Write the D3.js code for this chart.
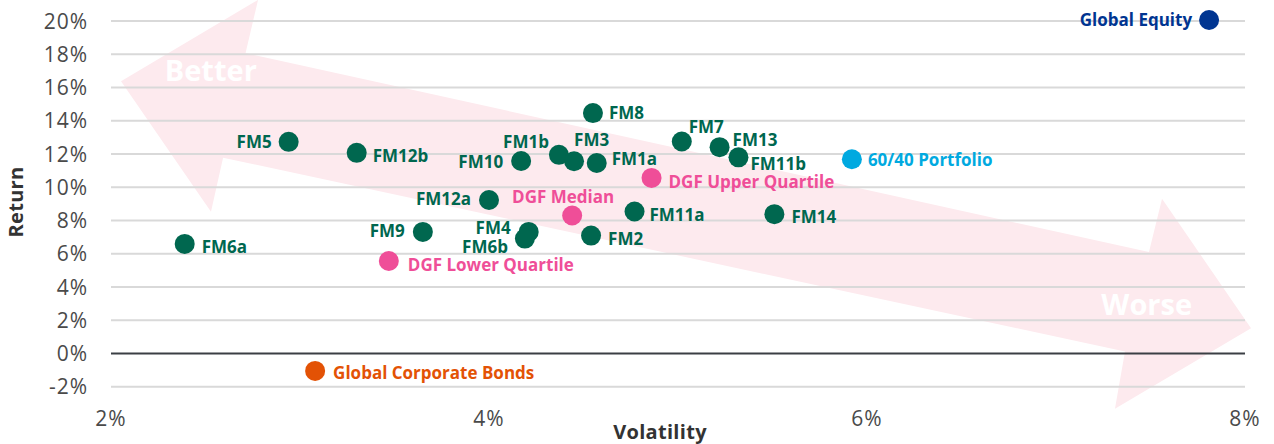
<!DOCTYPE html>
<html>
<head>
<meta charset="utf-8">
<script src="https://cdn.jsdelivr.net/npm/d3@7"></script>
<style>
  body { margin: 0; background: #fff; }
  svg { display: block; font-family: "Open Sans", sans-serif; }
  .tick-label { fill: #4a4a4a; font-size: 21px; letter-spacing: 1px; }
  .axis-title { fill: #333; font-size: 20px; font-weight: 700; letter-spacing: 0.3px; }
  .point-label { font-size: 17px; font-weight: 700; }
</style>
</head>
<body>
<svg id="chart" width="1274" height="444"></svg>
<script>
// data
const names = ['Global Equity', '60/40 Portfolio', 'Global Corporate Bonds',
  'DGF Upper Quartile', 'DGF Median', 'DGF Lower Quartile',
  'FM1a', 'FM1b', 'FM2', 'FM3', 'FM4', 'FM5', 'FM6a', 'FM6b', 'FM7', 'FM8',
  'FM9', 'FM10', 'FM11a', 'FM11b', 'FM12a', 'FM12b', 'FM13', 'FM14'];
const volatility = [7.81, 5.92, 3.08,
  4.86, 4.44, 3.47,
  4.57, 4.37, 4.54, 4.45, 4.21, 2.94, 2.39, 4.19, 5.02, 4.55,
  3.65, 4.17, 4.77, 5.32, 4.00, 3.30, 5.22, 5.51];
const returns = [20.06, 11.68, -1.05,
  10.56, 8.30, 5.56,
  11.46, 11.95, 7.09, 11.56, 7.31, 12.73, 6.59, 6.91, 12.75, 14.46,
  7.31, 11.58, 8.54, 11.80, 9.23, 12.07, 12.41, 8.38];
const groups = ['equity', 'balanced', 'bonds',
  'dgf', 'dgf', 'dgf',
  'fm', 'fm', 'fm', 'fm', 'fm', 'fm', 'fm', 'fm', 'fm', 'fm',
  'fm', 'fm', 'fm', 'fm', 'fm', 'fm', 'fm', 'fm'];
const xTicks = [2, 4, 6, 8];
const yTicks = [-2, 0, 2, 4, 6, 8, 10, 12, 14, 16, 18, 20];

// background arrow outline, in (volatility, return) units
const arrowX = [2.053, 2.778, 2.712, 7.492, 7.561, 8.032, 7.312, 7.365, 2.593, 2.529];
const arrowY = [16.37, 21.27, 18.07, 6.10, 9.31, 1.51, -3.32, 0.12, 11.78, 8.52];

const colors = { equity: '#003591', balanced: '#00a9e0', bonds: '#e35205', dgf: '#ef4e98', fm: '#00674f' };

// label offsets: [dx, dy, anchor]
const labelPos = {
  'Global Equity': [-17, 0, 'end'],
  '60/40 Portfolio': [16, 1, 'start'],
  'Global Corporate Bonds': [18, 2, 'start'],
  'DGF Upper Quartile': [17, 4, 'start'],
  'DGF Median': [-9, -19, 'middle'],
  'DGF Lower Quartile': [19, 4, 'start'],
  'FM1a': [15, -4, 'start'],
  'FM1b': [-10, -13, 'end'],
  'FM2': [17, 3, 'start'],
  'FM3': [0, -21, 'start'],
  'FM4': [-18, -4, 'end'],
  'FM5': [-17, 0, 'end'],
  'FM6a': [17, 3, 'start'],
  'FM6b': [-17, 8, 'end'],
  'FM7': [7, -15, 'start'],
  'FM8': [16, 0, 'start'],
  'FM9': [-18, -1, 'end'],
  'FM10': [-18, 1, 'end'],
  'FM11a': [15, 3, 'start'],
  'FM11b': [12, 7, 'start'],
  'FM12a': [-18, -1, 'end'],
  'FM12b': [16, 3, 'start'],
  'FM13': [13, -7, 'start'],
  'FM14': [17, 3, 'start']
};

const svg = d3.select('#chart');

const xScale = d3.scaleLinear().domain([2, 8]).range([111, 1245]);
const yScale = d3.scaleLinear().domain([-2, 20]).range([386.7, 21]);

// arrow
const arrowPts = arrowX.map((x, i) => [xScale(x), yScale(arrowY[i])]);
svg.append('polygon')
  .attr('points', arrowPts.map(p => p.join(',')).join(' '))
  .attr('fill', '#fdeaee');

svg.append('text')
  .attr('x', xScale(2.528)).attr('y', yScale(16.98))
  .attr('dy', '0.35em')
  .attr('text-anchor', 'middle')
  .attr('fill', '#fff').attr('font-size', 29).attr('font-weight', 700)
  .text('Better');

svg.append('text')
  .attr('x', xScale(7.48)).attr('y', yScale(2.95))
  .attr('dy', '0.35em')
  .attr('text-anchor', 'middle')
  .attr('fill', '#fff').attr('font-size', 29).attr('font-weight', 700)
  .text('Worse');

// gridlines
svg.append('g').selectAll('line').data(yTicks)
  .enter().append('line')
  .attr('x1', xScale(2)).attr('x2', xScale(8))
  .attr('y1', d => yScale(d)).attr('y2', d => yScale(d))
  .attr('stroke', d => d === 0 ? '#3b3f44' : '#d9d9d9')
  .attr('stroke-width', 2);

// y tick labels
svg.append('g').selectAll('text').data(yTicks)
  .enter().append('text')
  .attr('class', 'tick-label')
  .attr('x', 88)
  .attr('y', d => yScale(d))
  .attr('dy', '0.36em')
  .attr('text-anchor', 'end')
  .text(d => d + '%');

// x tick labels
svg.append('g').selectAll('text').data(xTicks)
  .enter().append('text')
  .attr('class', 'tick-label')
  .attr('x', d => xScale(d))
  .attr('y', 418)
  .attr('dy', '0.36em')
  .attr('text-anchor', 'middle')
  .text(d => d + '%');

svg.append('text')
  .attr('class', 'axis-title')
  .attr('transform', 'translate(16, 202) rotate(-90)')
  .attr('dy', '0.35em')
  .attr('text-anchor', 'middle')
  .text('Return');

svg.append('text')
  .attr('class', 'axis-title')
  .attr('x', 660).attr('y', 432)
  .attr('dy', '0.35em')
  .attr('text-anchor', 'middle')
  .text('Volatility');

// points
const points = names.map((n, i) => ({ name: n, x: volatility[i], y: returns[i], group: groups[i] }));

const pg = svg.append('g');
pg.selectAll('circle').data(points)
  .enter().append('circle')
  .attr('cx', d => xScale(d.x))
  .attr('cy', d => yScale(d.y))
  .attr('r', 10)
  .attr('fill', d => colors[d.group]);

pg.selectAll('text').data(points)
  .enter().append('text')
  .attr('class', 'point-label')
  .attr('x', d => xScale(d.x) + labelPos[d.name][0])
  .attr('y', d => yScale(d.y) + labelPos[d.name][1])
  .attr('dy', '0.36em')
  .attr('text-anchor', d => labelPos[d.name][2])
  .attr('fill', d => colors[d.group])
  .text(d => d.name);
</script>
</body>
</html>
